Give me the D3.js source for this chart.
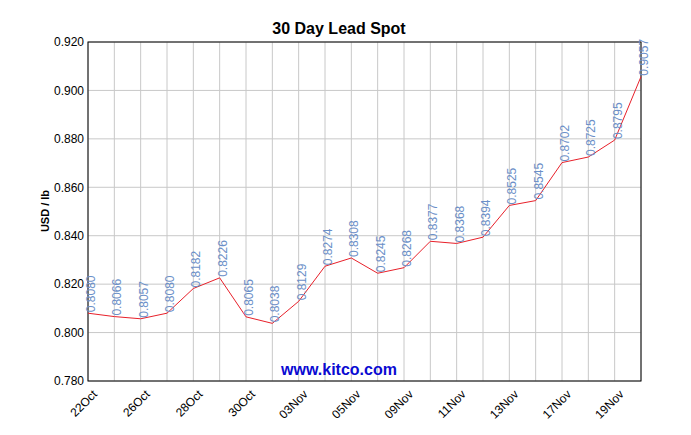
<!DOCTYPE html>
<html><head><meta charset="utf-8">
<script src="https://cdn.jsdelivr.net/npm/d3@7"></script>
<style>body{margin:0;background:#fff}text{font-family:Arial,"Liberation Sans",sans-serif}</style>
</head><body>
<svg width="691" height="435"></svg>
<script>
var dates = ["22Oct","23Oct","26Oct","27Oct","28Oct","29Oct","30Oct","02Nov","03Nov","04Nov","05Nov","06Nov","09Nov","10Nov","11Nov","12Nov","13Nov","16Nov","17Nov","18Nov","19Nov","20Nov"];
var prices = [0.8080,0.8066,0.8057,0.8080,0.8182,0.8226,0.8065,0.8038,0.8129,0.8274,0.8308,0.8245,0.8268,0.8377,0.8368,0.8394,0.8525,0.8545,0.8702,0.8725,0.8795,0.9057];
var yTicks = [0.78,0.80,0.82,0.84,0.86,0.88,0.90,0.92];

var svg = d3.select("svg"),
    pLeft = 88, pRight = 641, pTop = 42, pBottom = 381;

var x = d3.scalePoint().domain(d3.range(dates.length)).range([pLeft, pRight]);
var y = d3.scaleLinear().domain([0.78, 0.92]).range([pBottom, pTop]);

// grid
svg.append("g").selectAll("line").data(d3.range(dates.length)).enter().append("line")
    .attr("x1", function(i) { return x(i); }).attr("x2", function(i) { return x(i); })
    .attr("y1", pTop).attr("y2", pBottom).attr("stroke", "#c8c8c8");
svg.append("g").selectAll("line").data(yTicks).enter().append("line")
    .attr("x1", pLeft).attr("x2", pRight)
    .attr("y1", function(d) { return y(d); }).attr("y2", function(d) { return y(d); })
    .attr("stroke", "#c8c8c8");

svg.append("rect").attr("x", pLeft).attr("y", pTop).attr("width", pRight - pLeft).attr("height", pBottom - pTop)
    .attr("fill", "none").attr("stroke", "#000");

// y axis
var ya = svg.append("g").attr("transform", "translate(" + pLeft + ",0)")
    .call(d3.axisLeft(y).tickValues(yTicks).tickFormat(d3.format(".3f")).tickSize(0).tickPadding(4));
ya.select(".domain").remove();
ya.selectAll("text").attr("font-size", 12).attr("fill", "#000");

// x axis
var labelIdx = [0,2,4,6,8,10,12,14,16,18,20];
svg.append("g").selectAll("text").data(labelIdx).enter().append("text")
    .attr("transform", function(i) { return "translate(" + (x(i) + 4) + "," + (pBottom + 8) + ") rotate(-45)"; })
    .attr("text-anchor", "end").attr("font-size", 12).attr("dy", "0.7em")
    .text(function(i) { return dates[i]; });

// line
svg.append("path").datum(prices)
    .attr("d", d3.line().x(function(d, i) { return x(i); }).y(function(d) { return y(d); }))
    .attr("fill", "none").attr("stroke", "#e8202a").attr("stroke-width", 1);

// value labels
svg.append("g").selectAll("text").data(prices).enter().append("text")
    .attr("transform", function(d, i) { return "translate(" + (x(i) + 7) + "," + (y(d) - 1) + ") rotate(-90)"; })
    .attr("font-size", 12).attr("fill", "#6b8fc8")
    .text(function(d) { return d.toFixed(4); });

svg.append("text").attr("x", 339).attr("y", 34).attr("text-anchor", "middle")
    .attr("font-size", 16).attr("font-weight", "bold").text("30 Day Lead Spot");
svg.append("text").attr("transform", "translate(49,211) rotate(-90)").attr("text-anchor", "middle")
    .attr("font-size", 11).attr("font-weight", "bold").text("USD / lb");
svg.append("text").attr("x", 339).attr("y", 375).attr("text-anchor", "middle")
    .attr("font-size", 16).attr("font-weight", "bold").attr("fill", "#0a0ad2").text("www.kitco.com");
</script>
</body></html>
